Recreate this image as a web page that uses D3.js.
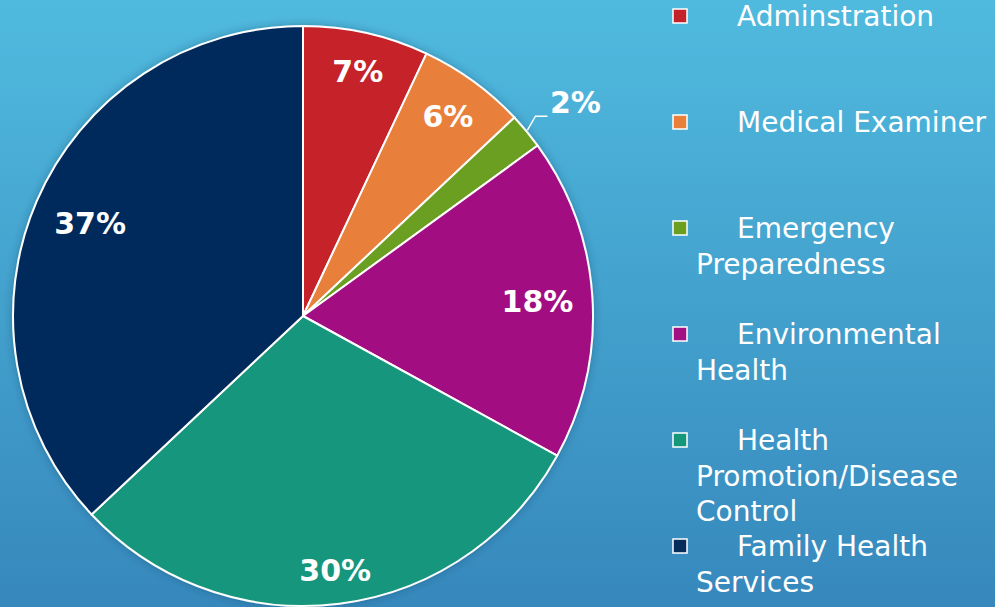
<!DOCTYPE html>
<html>
<head>
<meta charset="utf-8">
<script src="https://cdn.jsdelivr.net/npm/d3@7"></script>
<style>
  html, body { margin: 0; padding: 0; overflow: hidden; }
  svg { display: block; }
</style>
</head>
<body>
<div id="chart"></div>
<script>
// budget share by division (percent)
const categories = ["Adminstration", "Medical Examiner", "Emergency Preparedness",
                    "Environmental Health", "Health Promotion/Disease Control", "Family Health Services"];
const values = [7, 6, 2, 18, 30, 37];
const colors = ["#c5232a", "#e8803a", "#6b9f20", "#a30f82", "#16967b", "#062c5c"];

const width = 995, height = 607;
const cx = 303, cy = 316, radius = 290;

const svg = d3.select("#chart").append("svg")
    .attr("width", width)
    .attr("height", height);

// background gradient
const defs = svg.append("defs");
const grad = defs.append("linearGradient")
    .attr("id", "bg").attr("x1", 0).attr("y1", 0).attr("x2", 0).attr("y2", 1);
grad.append("stop").attr("offset", "0%").attr("stop-color", "#50bade");
grad.append("stop").attr("offset", "100%").attr("stop-color", "#3688bc");

const shadow = defs.append("filter").attr("id", "shadow")
    .attr("x", "-10%").attr("y", "-10%").attr("width", "120%").attr("height", "120%");
shadow.append("feDropShadow")
    .attr("dx", 0).attr("dy", 0).attr("stdDeviation", 4)
    .attr("flood-color", "#0a3350").attr("flood-opacity", 0.35);

svg.append("rect").attr("width", width).attr("height", height).attr("fill", "url(#bg)");

const pie = d3.pie().sort(null).value(d => d);
const arcs = pie(values);
const arc = d3.arc().innerRadius(0).outerRadius(radius);

const g = svg.append("g").attr("transform", `translate(${cx},${cy})`);

g.append("g").attr("filter", "url(#shadow)")
  .selectAll("path")
  .data(arcs)
  .enter()
  .append("path")
    .attr("d", arc)
    .attr("fill", (d, i) => colors[i])
    .attr("stroke", "#fff")
    .attr("stroke-width", 2)
    .attr("stroke-linejoin", "round");

// label placement (best-fit, as in the original); the 2% slice gets an outside label
const labelR = [0.865, 0.85, 1, 0.81, 0.885, 0.80];
const edge = d => {
    const a = (d.startAngle + d.endAngle) / 2;
    return [Math.sin(a) * radius, -Math.cos(a) * radius];
};
g.selectAll(".pct")
    .data(arcs)
    .enter()
    .append("text")
    .attr("class", "pct")
    .attr("transform", (d, i) => {
        const a = (d.startAngle + d.endAngle) / 2;
        const r = radius * labelR[i];
        let x = Math.sin(a) * r, y = -Math.cos(a) * r;
        if (i === 2) { x += 49; y -= 29; }
        return `translate(${x},${y})`;
    })
    .attr("text-anchor", "middle")
    .attr("dominant-baseline", "central")
    .attr("fill", "#fff")
    .style("font-family", "'DejaVu Sans', sans-serif")
    .style("font-weight", "bold")
    .style("font-size", "30px")
    .text(d => d.data + "%");

// leader line for the small slice
{
    const [x0, y0] = edge(arcs[2]);
    g.append("path")
        .attr("d", `M${x0 + 1},${y0 - 1}L${x0 + 9},${y0 - 15}L${x0 + 21},${y0 - 15}`)
        .attr("fill", "none")
        .attr("stroke", "#fff")
        .attr("stroke-width", 1.5);
}

// legend
const legendY = d3.scaleLinear().domain([0, 1]).range([16, 122]);
const legend = svg.append("g")
    .style("font-family", "'DejaVu Sans', sans-serif")
    .style("font-size", "28px")
    .attr("fill", "#fff");

const item = legend.selectAll(".item")
    .data(categories)
    .enter()
    .append("g")
    .attr("class", "item")
    .attr("transform", (d, i) => `translate(0,${legendY(i)})`);

item.append("rect")
    .attr("x", 673).attr("y", -7)
    .attr("width", 14).attr("height", 14)
    .attr("fill", (d, i) => colors[i])
    .attr("stroke", "#fff")
    .attr("stroke-width", 1.5);

// greedy wrap: first line indented, continuation lines start at the left edge
const maxRight = 992;
item.each(function(name) {
    const el = d3.select(this);
    const words = name.split(" ");
    let line = [], lineX = 737, n = 0;
    const t = el.append("text");
    let tspan = t.append("tspan").attr("x", lineX).attr("y", 10);
    words.forEach(w => {
        line.push(w);
        tspan.text(line.join(" "));
        if (tspan.node().getComputedTextLength() + lineX > maxRight && line.length > 1) {
            line.pop();
            tspan.text(line.join(" "));
            line = [w];
            n += 1;
            lineX = 696;
            tspan = t.append("tspan").attr("x", lineX).attr("y", 10 + n * 35.5).text(w);
        } else if (tspan.node().getComputedTextLength() + lineX > maxRight && n === 0) {
            tspan.text("");
            n += 1;
            lineX = 696;
            tspan = t.append("tspan").attr("x", lineX).attr("y", 10 + n * 35.5).text(w);
        }
    });
});
</script>
</body>
</html>
